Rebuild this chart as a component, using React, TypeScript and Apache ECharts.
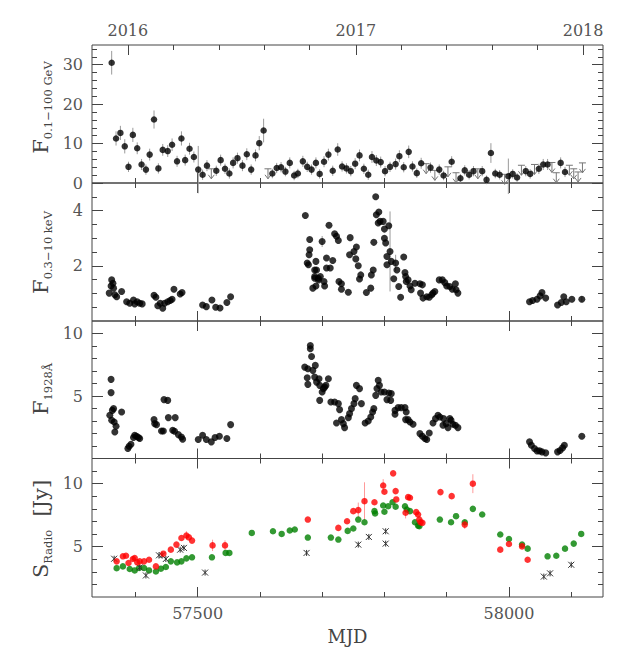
import React, { useEffect, useRef } from 'react';
import * as echarts from 'echarts';

// ---------- axis / tick data ----------
const X_MIN = 57330.4;
const X_MAX = 58151;
const mjdTicks = [57400, 57500, 57600, 57700, 57800, 57900, 58000, 58100];
const mjdLabelTicks = [57500, 58000];
const yearMjd = [57388, 57754, 58119];
const yearNames = ['2016', '2017', '2018'];
const yearSubTicks = [57461, 57534, 57607, 57680, 57827, 57900, 57973, 58046];

const gammaRange = [0, 35];
const gammaMajor = [0, 10, 20, 30];
const gammaMinor = [2, 4, 6, 8, 12, 14, 16, 18, 22, 24, 26, 28, 32, 34];
const xrayRange = [0, 5];
const xrayMajor = [2, 4];
const xrayMinor = [0.5, 1, 1.5, 2.5, 3, 3.5, 4.5];
const uvRange = [0, 11];
const uvMajor = [5, 10];
const uvMinor = [1, 2, 3, 4, 6, 7, 8, 9];
const radioRange = [1, 12];
const radioMajor = [5, 10];
const radioMinor = [2, 3, 4, 6, 7, 8, 9, 11];

// ---------- gamma-ray: [MJD, flux, error] ----------
const gammaPoints: [number, number, number][] = [
  [57362, 30.5, 3.0], [57369, 11.3, 1.8], [57376, 12.7, 1.8], [57383, 9.3, 1.8], [57389, 4.1, 1.3],
  [57396, 12.2, 1.8], [57403, 8.8, 1.5], [57410, 4.7, 1.4], [57417, 3.4, 1.3], [57423, 7.2, 1.5],
  [57430, 16.1, 2.3], [57437, 3.7, 1.3], [57444, 8.4, 1.5], [57452, 8.1, 1.5], [57459, 9.7, 1.6],
  [57467, 5.5, 1.4], [57474, 11.3, 1.8], [57480, 5.8, 1.4], [57487, 8.7, 1.5], [57494, 6.6, 1.4],
  [57501, 3.4, 6.0], [57508, 2.1, 1.3], [57515, 4.4, 1.4], [57530, 3.1, 1.3], [57537, 5.8, 1.4],
  [57544, 3.6, 1.3], [57551, 2.4, 1.3], [57557, 5.1, 1.4], [57564, 6.3, 1.4], [57572, 4.4, 1.4],
  [57579, 7.3, 1.5], [57586, 3.4, 1.3], [57593, 7.0, 1.5], [57599, 10.1, 1.8], [57606, 13.3, 3.0],
  [57620, 2.4, 1.2], [57627, 3.8, 1.3], [57634, 4.0, 1.3], [57641, 2.9, 1.2], [57648, 5.1, 1.4],
  [57655, 1.9, 1.2], [57661, 2.4, 1.2], [57669, 5.5, 1.4], [57676, 4.1, 1.3], [57683, 3.4, 1.3],
  [57690, 5.1, 1.4], [57696, 2.3, 1.2], [57703, 5.4, 1.4], [57710, 7.2, 1.5], [57717, 3.1, 1.3],
  [57725, 8.5, 1.6], [57732, 4.2, 1.3], [57739, 3.7, 1.3], [57746, 3.0, 1.3], [57753, 4.9, 1.4],
  [57760, 7.0, 1.5], [57767, 3.6, 1.3], [57774, 2.1, 1.3], [57780, 6.6, 1.5], [57787, 5.7, 1.4],
  [57794, 5.3, 1.4], [57801, 3.0, 1.3], [57809, 4.1, 1.3], [57818, 4.8, 1.4], [57824, 6.8, 1.5],
  [57831, 4.0, 1.3], [57839, 7.9, 1.6], [57845, 4.2, 1.3], [57852, 2.5, 1.2], [57859, 5.0, 1.4],
  [57874, 3.9, 1.3], [57888, 3.4, 1.3], [57895, 1.9, 1.2], [57908, 5.4, 1.4], [57922, 1.2, 1.1],
  [57929, 3.2, 1.3], [57936, 2.1, 1.2], [57943, 3.0, 1.3], [57957, 3.0, 1.3], [57964, 0.8, 1.1],
  [57971, 7.6, 2.5], [57978, 2.4, 1.2], [57985, 2.1, 1.2], [57999, 1.7, 4.5], [58006, 2.3, 1.2],
  [58013, 1.4, 1.1], [58027, 3.0, 1.3], [58034, 2.3, 1.2], [58048, 3.6, 1.3], [58055, 4.7, 1.4],
  [58062, 4.7, 1.4], [58083, 5.1, 1.4], [58090, 2.8, 1.3],
];
// upper limits: [MJD, limit]
const gammaUpperLimits: [number, number][] = [
  [57522, 3.6], [57613, 3.6], [57867, 4.9], [57881, 3.2], [57902, 4.1], [57915, 2.6],
  [57950, 3.6], [57993, 2.2], [58020, 4.5], [58041, 4.7], [58069, 5.2], [58076, 2.6],
  [58097, 4.5], [58104, 3.6], [58111, 2.8], [58118, 5.1],
];

// ---------- X-ray 0.3-10 keV: [MJD, flux] ----------
const xrayPoints: [number, number][] = [
  [57358, 1.01], [57361, 1.27], [57362, 1.49], [57364, 1.37], [57365, 1.19], [57367, 0.95], [57370, 0.88],
  [57378, 1.07], [57386, 0.70], [57391, 0.64], [57397, 0.76], [57399, 0.62], [57403, 0.70], [57407, 0.64],
  [57411, 0.62], [57430, 0.93], [57433, 0.86], [57436, 0.55], [57440, 0.64], [57444, 0.46], [57447, 0.64],
  [57452, 0.70], [57456, 0.74], [57459, 0.79], [57462, 1.15], [57472, 0.98], [57475, 1.03], [57508, 0.58],
  [57514, 0.52], [57523, 0.76], [57529, 0.50], [57536, 0.47], [57547, 0.67], [57553, 0.88],
  [57673, 3.82], [57676, 2.10], [57678, 2.04], [57679, 2.40], [57680, 2.58], [57680, 2.95], [57685, 1.19],
  [57688, 1.55], [57688, 1.61], [57688, 1.85], [57690, 2.16], [57690, 1.27], [57691, 1.85], [57694, 1.55],
  [57694, 1.49], [57697, 1.61], [57700, 2.88], [57703, 1.43], [57704, 1.27], [57707, 2.28], [57707, 1.92],
  [57711, 3.47], [57713, 1.92], [57717, 2.19], [57720, 3.16], [57723, 3.07], [57726, 2.92], [57727, 1.43],
  [57731, 1.35], [57731, 1.15], [57742, 1.04], [57744, 2.40], [57745, 3.02], [57751, 2.52], [57754, 2.25],
  [57755, 2.68], [57758, 2.00], [57760, 1.52], [57762, 1.67], [57771, 1.03], [57778, 1.19], [57779, 1.67],
  [57782, 1.85], [57783, 2.85], [57786, 4.50], [57787, 3.85], [57790, 3.55], [57791, 3.95], [57793, 3.61],
  [57798, 3.61], [57800, 3.33], [57800, 3.00], [57802, 2.83], [57804, 2.34], [57804, 2.04], [57807, 3.45],
  [57809, 2.52], [57811, 2.16], [57815, 1.53], [57818, 2.10], [57820, 1.85], [57823, 1.25], [57826, 0.86],
  [57831, 2.32], [57833, 1.76], [57834, 1.61], [57835, 1.43], [57838, 1.49], [57841, 1.27], [57843, 1.13],
  [57849, 1.37], [57857, 1.35], [57858, 1.01], [57861, 1.31], [57862, 0.83], [57868, 0.88], [57872, 0.86],
  [57876, 0.95], [57878, 1.01], [57881, 1.07], [57888, 1.49], [57893, 1.49], [57897, 1.39], [57900, 1.27],
  [57905, 1.25], [57909, 1.15], [57914, 1.35], [57915, 1.13], [57918, 1.01],
  [58033, 0.70], [58038, 0.74], [58045, 0.79], [58050, 0.91], [58053, 1.03], [58059, 0.83], [58078, 0.58],
  [58084, 0.67], [58088, 0.88], [58092, 0.70], [58101, 0.79], [58117, 0.79],
];
const xrayErrors: [number, number, number][] = [
  [57700, 2.88, 0.2], [57809, 2.52, 1.45], [57818, 2.10, 0.3], [58117, 0.79, 0.1],
];

// ---------- UV 1928 A: [MJD, flux] ----------
const uvPoints: [number, number][] = [
  [57359, 3.46], [57361, 6.33], [57361, 5.27], [57362, 3.06], [57363, 3.85], [57365, 3.99], [57366, 2.92],
  [57367, 2.12], [57369, 2.58], [57378, 3.72], [57388, 0.80], [57390, 0.98], [57393, 1.14], [57397, 1.68],
  [57399, 1.86], [57402, 1.78], [57405, 1.68], [57407, 1.60], [57430, 3.11], [57431, 2.79], [57434, 2.71],
  [57442, 2.20], [57445, 2.20], [57446, 4.71], [57452, 4.65], [57453, 3.27], [57464, 3.27], [57460, 2.26],
  [57463, 2.18], [57469, 1.91], [57474, 1.72], [57476, 1.54], [57501, 1.52], [57508, 1.86], [57514, 1.52],
  [57522, 1.33], [57528, 1.68], [57535, 1.78], [57547, 1.60], [57553, 2.71],
  [57672, 7.31], [57676, 6.46], [57677, 5.93], [57677, 7.18], [57681, 9.04], [57681, 8.78], [57683, 8.16],
  [57685, 7.05], [57688, 6.51], [57689, 7.45], [57691, 6.11], [57695, 6.38], [57696, 5.85], [57696, 4.65],
  [57700, 5.32], [57702, 5.59], [57704, 5.71], [57706, 5.85], [57710, 6.38], [57714, 4.52], [57720, 4.52],
  [57726, 4.39], [57728, 3.91], [57723, 2.84], [57731, 3.11], [57734, 2.79], [57736, 2.47], [57742, 3.27],
  [57744, 3.59], [57747, 3.99], [57751, 4.39], [57753, 4.79], [57755, 5.85], [57760, 5.59], [57763, 4.39],
  [57769, 2.84], [57774, 3.00], [57778, 3.32], [57781, 3.72], [57783, 3.99], [57786, 5.05], [57788, 5.59],
  [57790, 6.25], [57792, 5.85], [57795, 5.32], [57800, 5.32], [57804, 4.71], [57807, 5.24], [57811, 5.19],
  [57810, 4.65], [57817, 3.85], [57817, 3.54], [57822, 4.07], [57827, 4.07], [57833, 4.07], [57835, 3.72],
  [57834, 3.11], [57838, 3.11], [57841, 2.92], [57846, 2.74], [57857, 1.99], [57861, 1.78], [57865, 1.60],
  [57868, 1.52], [57872, 2.04], [57878, 2.84], [57882, 3.19], [57886, 3.46], [57889, 3.32], [57894, 2.66],
  [57895, 3.19], [57899, 2.79], [57902, 2.47], [57905, 3.19], [57907, 3.06], [57910, 2.74], [57914, 2.66],
  [57918, 2.47],
  [58033, 1.33], [58036, 1.06], [58041, 0.80], [58045, 0.61], [58049, 0.61], [58053, 0.53], [58059, 0.45],
  [58078, 0.53], [58082, 0.64], [58086, 0.85], [58089, 1.06], [58117, 1.78],
];

// ---------- Radio: [MJD, Jy] ----------
const radioRed: [number, number][] = [
  [57370, 3.83], [57380, 4.23], [57385, 4.28], [57389, 3.70], [57396, 4.02], [57399, 4.10], [57403, 3.75],
  [57407, 3.83], [57414, 3.83], [57422, 3.96], [57433, 3.43], [57445, 4.44], [57457, 4.76], [57466, 5.16],
  [57474, 5.69], [57482, 5.88], [57486, 5.74], [57491, 5.48], [57524, 5.10], [57544, 5.10], [57677, 7.15],
  [57726, 6.49], [57740, 7.02], [57750, 7.82], [57758, 7.90], [57768, 8.61], [57784, 8.53], [57798, 9.86],
  [57800, 9.36], [57814, 10.82], [57818, 9.41], [57819, 8.75], [57834, 7.69], [57838, 8.93], [57841, 8.88],
  [57851, 7.74], [57854, 7.55], [57856, 7.15], [57858, 6.94], [57861, 6.89], [57890, 9.33], [57908, 9.01],
  [57929, 6.75], [57942, 10.0], [57986, 4.76], [58000, 5.21], [58021, 5.02], [58030, 3.96],
];
const radioRedErrors: [number, number, number][] = [
  [57482, 5.88, 0.35], [57524, 5.10, 0.45], [57544, 5.10, 0.4], [57758, 7.90, 0.6], [57768, 8.61, 1.5],
  [57798, 9.86, 0.5], [57834, 7.69, 0.45], [57929, 6.75, 0.35], [57942, 10.0, 0.75],
];
const radioGreen: [number, number][] = [
  [57370, 3.29], [57380, 3.43], [57391, 3.22], [57399, 3.11], [57406, 3.30], [57414, 3.30], [57422, 3.11],
  [57433, 3.03], [57441, 3.25], [57449, 3.38], [57457, 3.83], [57467, 3.75], [57474, 3.83], [57482, 4.07],
  [57491, 4.15], [57523, 4.15], [57545, 4.50], [57551, 4.50], [57587, 6.09], [57621, 6.22], [57635, 6.01],
  [57648, 6.28], [57656, 6.36], [57677, 5.72], [57714, 5.72], [57726, 5.56], [57741, 6.25], [57750, 6.44],
  [57758, 7.15], [57768, 6.94], [57784, 7.82], [57785, 7.63], [57798, 8.27], [57800, 7.77], [57806, 8.21],
  [57813, 8.53], [57818, 8.17], [57833, 8.21], [57836, 7.95], [57841, 7.82], [57849, 6.94], [57854, 6.67],
  [57856, 6.62], [57889, 7.15], [57907, 6.94], [57915, 7.42], [57929, 6.94], [57942, 8.00], [57957, 7.55],
  [57986, 5.96], [58000, 5.61], [58021, 5.16], [58030, 4.84], [58062, 4.23], [58076, 4.28], [58090, 4.84],
  [58104, 5.24], [58116, 6.01],
];
const radioStars: [number, number][] = [
  [57366, 4.04], [57407, 3.35], [57417, 2.71], [57438, 4.31], [57443, 4.31], [57449, 4.02], [57472, 4.76],
  [57478, 4.90], [57512, 2.94], [57675, 4.50], [57758, 5.16], [57775, 5.77], [57802, 6.22], [57802, 5.24],
  [58056, 2.62], [58066, 2.88], [58100, 3.56],
];

// ---------- layout / style ----------
const FONT = 'DejaVu Serif';
const AX = '#444';
const LBL = '#555';
const GRIDS = [
  { top: 45, height: 138 },
  { top: 183, height: 138 },
  { top: 321, height: 137.5 },
  { top: 458.5, height: 138.5 },
];

function xAx(gi: number, position: string, ticks: number[], len: number, labels?: number[], fmt?: (v: number) => string, margin = 8) {
  return {
    type: 'value', gridIndex: gi, position, min: X_MIN, max: X_MAX,
    axisLine: { show: false, onZero: false },
    splitLine: { show: false },
    axisTick: { show: true, inside: true, length: len, customValues: ticks, lineStyle: { color: AX, width: 1 } },
    axisLabel: labels
      ? { show: true, customValues: labels, margin, fontFamily: FONT, fontSize: 16, color: LBL, formatter: fmt || ((v: number) => String(v)) }
      : { show: false },
  };
}

function yAx(gi: number, position: string, range: number[], ticks: number[], len: number, labels?: number[]) {
  return {
    type: 'value', gridIndex: gi, position, min: range[0], max: range[1],
    axisLine: { show: false, onZero: false },
    splitLine: { show: false },
    axisTick: { show: true, inside: true, length: len, customValues: ticks, lineStyle: { color: AX, width: 1 } },
    axisLabel: labels
      ? { show: true, customValues: labels, margin: 9, fontFamily: FONT, fontSize: 16, color: LBL }
      : { show: false },
  };
}

const errRender = (color: string) => (params: any, api: any) => {
  const x = api.value(0), y = api.value(1), e = api.value(2);
  const a = api.coord([x, y - e]);
  const b = api.coord([x, y + e]);
  return { type: 'line', shape: { x1: a[0], y1: a[1], x2: b[0], y2: b[1] }, style: { stroke: color, lineWidth: 1 } };
};

const ulRender = (params: any, api: any) => {
  const p = api.coord([api.value(0), api.value(1)]);
  const x = p[0], y = p[1];
  const st = { stroke: '#777', lineWidth: 1, fill: 'none' };
  return {
    type: 'group',
    children: [
      { type: 'line', shape: { x1: x - 3.5, y1: y, x2: x + 3.5, y2: y }, style: st },
      { type: 'line', shape: { x1: x, y1: y, x2: x, y2: y + 10 }, style: st },
      { type: 'polyline', shape: { points: [[x - 3, y + 6], [x, y + 10], [x + 3, y + 6]] }, style: st },
    ],
  };
};

const starRender = (params: any, api: any) => {
  const p = api.coord([api.value(0), api.value(1)]);
  const x = p[0], y = p[1], r = 3;
  const st = { stroke: '#333', lineWidth: 1 };
  return {
    type: 'group',
    children: [
      { type: 'line', shape: { x1: x - r, y1: y - r, x2: x + r, y2: y + r }, style: st },
      { type: 'line', shape: { x1: x - r, y1: y + r, x2: x + r, y2: y - r }, style: st },
      { type: 'line', shape: { x1: x, y1: y - r, x2: x, y2: y + r }, style: st },
    ],
  };
};

function buildOption() {
  const grid = GRIDS.map((g) => ({
    left: 92, right: 25, top: g.top, height: g.height,
    show: true, borderColor: AX, borderWidth: 1, backgroundColor: 'transparent',
    containLabel: false, outerBoundsMode: 'none',
  }));

  const xAxis: any[] = [];
  for (let gi = 0; gi < 4; gi++) {
    const last = gi === 3;
    xAxis.push(xAx(gi, 'bottom', mjdTicks, 5));
    xAxis.push(xAx(gi, 'bottom', mjdLabelTicks, 10, last ? mjdLabelTicks : undefined));
    if (gi === 0) {
      xAxis.push(xAx(gi, 'top', yearSubTicks, 5));
      xAxis.push(xAx(gi, 'top', yearMjd, 10, yearMjd, (v: number) => yearNames[yearMjd.indexOf(v)] || '', 7));
    } else {
      xAxis.push(xAx(gi, 'top', mjdTicks, 5));
      xAxis.push(xAx(gi, 'top', mjdLabelTicks, 10));
    }
  }

  const yDefs = [
    [gammaRange, gammaMajor, gammaMinor, gammaMajor],
    [xrayRange, xrayMajor, xrayMinor, xrayMajor],
    [uvRange, uvMajor, uvMinor, uvMajor],
    [radioRange, radioMajor, radioMinor, radioMajor],
  ];
  const yAxis: any[] = [];
  yDefs.forEach((d, gi) => {
    yAxis.push(yAx(gi, 'left', d[0], d[1], 11, d[3]));
    yAxis.push(yAx(gi, 'left', d[0], d[2], 5));
    yAxis.push(yAx(gi, 'right', d[0], d[1], 11));
    yAxis.push(yAx(gi, 'right', d[0], d[2], 5));
  });

  const ax = (gi: number) => ({ xAxisIndex: gi * 4, yAxisIndex: gi * 4 });

  const series: any[] = [
    { type: 'custom', ...ax(0), renderItem: errRender('#9a9a9a'), data: gammaPoints, encode: { x: 0, y: 1 }, clip: false, z: 2 },
    { type: 'custom', ...ax(0), renderItem: ulRender, data: gammaUpperLimits, encode: { x: 0, y: 1 }, clip: false, z: 2 },
    { type: 'scatter', ...ax(0), data: gammaPoints.map((p) => [p[0], p[1]]), symbolSize: 6.5, itemStyle: { color: '#000' }, clip: false, z: 3 },

    { type: 'custom', ...ax(1), renderItem: errRender('#9a9a9a'), data: xrayErrors, encode: { x: 0, y: 1 }, clip: false, z: 2 },
    { type: 'scatter', ...ax(1), data: xrayPoints, symbolSize: 7, itemStyle: { color: '#000' }, clip: false, z: 3 },

    { type: 'scatter', ...ax(2), data: uvPoints, symbolSize: 7, itemStyle: { color: '#000' }, clip: false, z: 3 },

    { type: 'custom', ...ax(3), renderItem: errRender('#ff9a9a'), data: radioRedErrors, encode: { x: 0, y: 1 }, clip: false, z: 2 },
    { type: 'scatter', ...ax(3), data: radioGreen, symbolSize: 6.5, itemStyle: { color: '#008000' }, clip: false, z: 3 },
    { type: 'scatter', ...ax(3), data: radioRed, symbolSize: 6.5, itemStyle: { color: '#ff0000' }, clip: false, z: 4 },
    { type: 'custom', ...ax(3), renderItem: starRender, data: radioStars, encode: { x: 0, y: 1 }, clip: false, z: 4 },
  ];

  const big = { fontSize: 21, fontFamily: FONT, fill: '#444', lineHeight: 24, verticalAlign: 'top' };
  const sub = { fontSize: 11.5, fontFamily: FONT, fill: '#444', lineHeight: 13, verticalAlign: 'bottom' };
  const title = (y: number, text: string) => ({
    type: 'text', x: 42, y, rotation: Math.PI / 2, silent: true,
    style: { text, rich: { a: big, b: sub }, align: 'center', verticalAlign: 'middle' },
  });

  const graphic = [
    title(107.5, '{a|F}{b|0.1\u2212100 GeV}'),
    title(252.5, '{a|F}{b|0.3\u221210 keV}'),
    title(389, '{a|F}{b|1928\u00c5}'),
    title(529, '{a|S}{b|Radio}{a|  [Jy]}'),
    {
      type: 'text', x: 347.5, y: 636.5, silent: true,
      style: { text: 'MJD', fontSize: 18, fontFamily: FONT, fill: '#444', align: 'center', verticalAlign: 'middle' },
    },
  ];

  return { animation: false, backgroundColor: '#fff', grid, xAxis, yAxis, series, graphic };
}

export default function App() {
  const ref = useRef<HTMLDivElement>(null);
  useEffect(() => {
    if (!ref.current) return;
    const chart = echarts.init(ref.current, undefined, { renderer: 'svg' });
    chart.setOption(buildOption() as any);
    return () => chart.dispose();
  }, []);
  return <div ref={ref} style={{ position: 'absolute', left: 0, top: 0, width: 628, height: 650 }} />;
}
